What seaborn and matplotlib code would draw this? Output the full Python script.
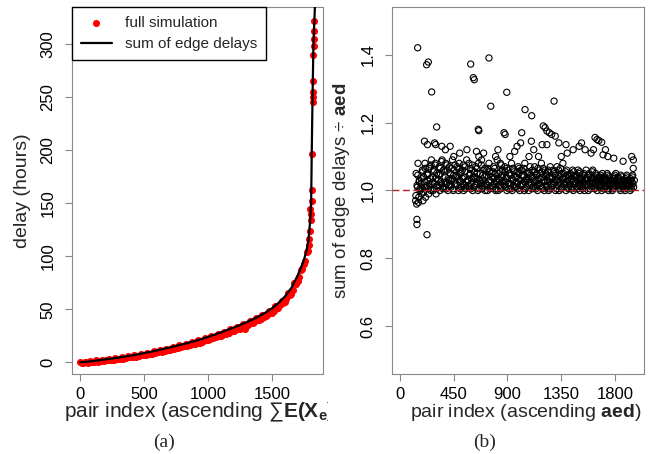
import seaborn as sns
import matplotlib.pyplot as plt
import pandas as pd
from matplotlib.transforms import Bbox, TransformedBbox

# ---- (a) delay per pair: sum of edge delays (line) vs full simulation (points)
line_idx = [0, 50, 100, 150, 200, 250, 300, 350, 400, 450,
            500, 550, 600, 650, 700, 750, 800, 850, 900, 950,
            1000, 1050, 1100, 1150, 1200, 1250, 1300, 1350, 1400, 1450,
            1500, 1550, 1600, 1650, 1700, 1725, 1750, 1770, 1785, 1795,
            1805, 1810, 1816, 1823, 1836]
line_delay = [0, 0.5, 1.2, 2.0, 2.8, 3.6, 4.5, 5.4, 6.4, 7.5,
              8.7, 9.9, 11.2, 12.6, 14.0, 15.5, 17.0, 18.6, 20.2, 22.0,
              24.0, 26.0, 28.2, 30.5, 32.8, 35.2, 37.8, 40.6, 43.6, 47.0,
              51.0, 56.0, 62.0, 70.0, 82.0, 89.0, 97.0, 106, 116, 130,
              150, 200, 250, 300, 340]

sim_idx = [0, 25, 50, 75, 100, 125, 150, 175, 200, 225,
           250, 275, 300, 325, 350, 375, 400, 425, 450, 475,
           500, 525, 550, 575, 600, 625, 650, 675, 700, 725,
           750, 775, 800, 825, 850, 875, 900, 925, 950, 975,
           1000, 1025, 1050, 1075, 1100, 1125, 1150, 1175, 1200, 1225,
           1250, 1275, 1300, 1325, 1350, 1375, 1400, 1425, 1450, 1475,
           1500, 1525, 1550, 1575, 1600, 1625, 1650, 1675, 1700, 1725,
           1750, 1770, 1785, 1795, 1800, 1806, 1808, 1812, 1815, 1817,
           1818, 1819, 1820, 1822, 1824, 1826, 1826, 1827,
           12, 37, 62, 87, 112, 137, 162, 187, 212, 237,
           262, 287, 312, 337, 362, 387, 412, 437, 462, 487,
           512, 537, 562, 587, 612, 637, 662, 687, 712, 737,
           762, 787, 812, 837, 862, 887, 912, 937, 962, 987,
           1012, 1037, 1062, 1087, 1112, 1137, 1162, 1187, 1212, 1237,
           1262, 1287, 1312, 1337, 1362, 1387, 1412, 1437, 1462, 1487,
           1512, 1537, 1562, 1587, 1612, 1637, 1662, 1687, 1712, 1737,
           1760, 1778, 1790, 1802]
sim_delay = [0.2, -0.3, 0.1, 0.9, 0.6, 1.8, 1.2, 2.5, 1.9, 3.3,
             2.6, 4.1, 3.2, 4.8, 4.1, 5.7, 5.0, 6.8, 5.6, 7.8,
             7.0, 9.1, 8.2, 10.3, 9.5, 11.6, 10.4, 13.0, 11.8, 14.5,
             13.6, 16.0, 15.1, 17.5, 16.3, 19.2, 17.5, 20.8, 19.6, 22.7,
             21.4, 24.6, 23.5, 26.8, 25.3, 29.0, 27.6, 31.2, 29.5, 33.6,
             31.0, 36.1, 34.8, 38.8, 37.5, 41.6, 40.2, 44.8, 43.5, 48.4,
             46.8, 52.9, 51.5, 58.2, 57.0, 65.1, 64.8, 75.0, 77.0, 87.5,
             92.5, 104, 111, 124, 145, 140, 152, 162, 196, 245,
             250, 255, 265, 290, 298, 305, 312, 322,
             -0.6, 0.0, -0.2, 0.1, 0.5, 0.7, 1.0, 1.5, 1.9, 2.2,
             2.5, 2.9, 3.3, 3.6, 4.1, 4.6, 5.0, 5.4, 5.9, 6.5,
             7.1, 7.6, 8.3, 8.8, 9.4, 10.1, 10.6, 11.3, 12.2, 12.9,
             13.6, 14.3, 15.0, 15.8, 16.5, 17.3, 18.0, 18.6, 19.8, 20.8,
             21.7, 22.8, 23.6, 24.9, 25.8, 27.0, 28.1, 29.3, 30.5, 31.4,
             32.9, 31.1, 35.4, 36.9, 38.2, 39.6, 41.2, 42.9, 44.6, 46.5,
             48.6, 50.9, 53.6, 56.3, 59.8, 63.5, 68.0, 74.1, 80.2, 87.6,
             96.0, 105, 116, 134]

# ---- (b) ratio sum of edge delays / aed, dense band
band_idx = [131, 135, 140, 146, 151, 157, 162, 168,
            176, 181, 187, 192, 198, 203, 209, 214,
            222, 228, 233, 240, 246, 251, 257, 263,
            271, 277, 284, 289, 296, 302, 307, 314,
            322, 328, 333, 340, 345, 352, 357, 364,
            371, 378, 383, 390, 396, 401, 408, 414,
            422, 427, 434, 439, 446, 452, 457, 463,
            471, 477, 484, 490, 495, 502, 507, 513,
            521, 528, 533, 539, 546, 551, 558, 564,
            572, 577, 583, 590, 595, 602, 608, 613,
            621, 627, 634, 639, 645, 652, 657, 664,
            671, 678, 683, 690, 696, 701, 708, 713,
            722, 727, 733, 740, 745, 752, 758, 763,
            771, 777, 784, 789, 796, 801, 808, 814,
            822, 828, 833, 840, 846, 851, 858, 863,
            871, 877, 883, 890, 895, 902, 907, 914,
            922, 927, 934, 939, 946, 951, 958, 963,
            971, 978, 983, 990, 995, 1002, 1008, 1013,
            1022, 1027, 1033, 1040, 1045, 1052, 1057, 1064,
            1071, 1078, 1083, 1089, 1096, 1101, 1108, 1114,
            1122, 1127, 1134, 1139, 1145, 1152, 1157, 1163,
            1171, 1177, 1184, 1190, 1195, 1202, 1208, 1213,
            1222, 1228, 1233, 1240, 1245, 1251, 1258, 1264,
            1271, 1277, 1284, 1289, 1296, 1302, 1307, 1314,
            1322, 1328, 1333, 1340, 1346, 1351, 1357, 1364,
            1371, 1377, 1384, 1390, 1395, 1401, 1408, 1414,
            1422, 1427, 1434, 1439, 1446, 1451, 1458, 1463,
            1471, 1478, 1483, 1490, 1496, 1501, 1507, 1513,
            1522, 1527, 1533, 1540, 1545, 1552, 1558, 1563,
            1571, 1577, 1584, 1589, 1596, 1602, 1607, 1614,
            1622, 1628, 1633, 1639, 1646, 1651, 1658, 1664,
            1671, 1677, 1683, 1690, 1695, 1702, 1708, 1713,
            1722, 1727, 1734, 1740, 1745, 1751, 1758, 1764,
            1771, 1778, 1783, 1789, 1796, 1801, 1807, 1814,
            1822, 1827, 1834, 1839, 1845, 1852, 1857, 1863,
            1871, 1877, 1884, 1890, 1895, 1901, 1908, 1914,
            1921, 1927, 1932, 1938, 1944, 1950, 1956, 1962]
band_ratio = [0.97, 1.05, 0.96, 1.01, 1.08, 0.98, 1.03, 1.00,
              1.02, 0.99, 1.06, 0.97, 1.04, 1.01, 1.08, 0.98,
              1.01, 1.05, 1.03, 0.99, 1.07, 1.02, 1.00, 1.09,
              1.04, 1.00, 1.06, 1.02, 1.08, 0.99, 1.05, 1.01,
              1.03, 1.07, 1.00, 1.05, 1.02, 1.09, 1.01, 1.06,
              1.01, 1.04, 1.08, 1.02, 1.06, 1.00, 1.03, 1.07,
              1.05, 1.01, 1.03, 1.09, 1.00, 1.06, 1.02, 1.04,
              1.02, 1.07, 1.04, 1.00, 1.08, 1.03, 1.05, 1.01,
              1.06, 1.02, 1.00, 1.04, 1.07, 1.01, 1.09, 1.03,
              1.03, 1.08, 1.01, 1.05, 1.02, 1.06, 1.00, 1.04,
              1.01, 1.04, 1.07, 1.02, 1.05, 1.00, 1.08, 1.03,
              1.05, 1.02, 1.09, 1.03, 1.01, 1.06, 1.04, 1.00,
              1.02, 1.06, 1.00, 1.04, 1.08, 1.03, 1.01, 1.05,
              1.04, 1.01, 1.07, 1.02, 1.05, 1.00, 1.03, 1.09,
              1.00, 1.05, 1.03, 1.08, 1.01, 1.04, 1.06, 1.02,
              1.03, 1.07, 1.01, 1.04, 1.00, 1.06, 1.02, 1.05,
              1.05, 1.02, 1.08, 1.00, 1.03, 1.06, 1.01, 1.04,
              1.01, 1.04, 1.02, 1.07, 1.05, 1.00, 1.03, 1.06,
              1.06, 1.02, 1.04, 1.00, 1.08, 1.03, 1.01, 1.05,
              1.03, 1.00, 1.05, 1.07, 1.02, 1.04, 1.06, 1.01,
              1.04, 1.07, 1.01, 1.03, 1.05, 1.00, 1.02, 1.06,
              1.02, 1.05, 1.08, 1.01, 1.04, 1.03, 1.00, 1.06,
              1.05, 1.01, 1.03, 1.06, 1.00, 1.04, 1.07, 1.02,
              1.01, 1.04, 1.06, 1.02, 1.05, 1.00, 1.03, 1.07,
              1.03, 1.06, 1.00, 1.04, 1.02, 1.05, 1.01, 1.08,
              1.05, 1.02, 1.04, 1.00, 1.06, 1.03, 1.01, 1.04,
              1.02, 1.05, 1.01, 1.03, 1.06, 1.00, 1.04, 1.02,
              1.04, 1.01, 1.03, 1.06, 1.02, 1.05, 1.00, 1.03,
              1.01, 1.04, 1.02, 1.05, 1.00, 1.03, 1.06, 1.02,
              1.03, 1.00, 1.05, 1.02, 1.04, 1.01, 1.03, 1.06,
              1.02, 1.04, 1.01, 1.05, 1.03, 1.00, 1.02, 1.04,
              1.04, 1.01, 1.03, 1.00, 1.05, 1.02, 1.04, 1.01,
              1.01, 1.03, 1.05, 1.02, 1.00, 1.04, 1.02, 1.03,
              1.03, 1.00, 1.02, 1.04, 1.01, 1.03, 1.05, 1.02,
              1.02, 1.04, 1.01, 1.03, 1.00, 1.02, 1.04, 1.01,
              1.01, 1.03, 1.00, 1.02, 1.04, 1.01, 1.03, 1.02,
              1.02, 1.00, 1.03, 1.01, 1.04, 1.02, 1.01, 1.03]

# second pass through the band (points between the rows above)
band2_idx = [133, 143, 149, 155, 160, 166,
             178, 184, 190, 196, 205, 211,
             225, 231, 237, 243, 254, 260,
             274, 280, 287, 293, 299, 310,
             325, 331, 337, 343, 349, 360,
             374, 381, 387, 393, 404, 411,
             424, 431, 437, 443, 449, 460,
             474, 481, 487, 498, 504, 510,
             524, 531, 536, 543, 549, 555,
             574, 580, 587, 593, 599, 605,
             624, 630, 637, 643, 649, 660,
             675, 681, 687, 693, 704, 710,
             724, 730, 737, 743, 749, 755,
             774, 780, 787, 793, 799, 805,
             825, 831, 837, 843, 849, 855,
             874, 880, 887, 893, 899, 910,
             924, 930, 937, 943, 949, 955,
             974, 981, 987, 993, 999, 1005,
             1024, 1030, 1037, 1043, 1049, 1060,
             1074, 1081, 1087, 1093, 1104, 1110,
             1124, 1130, 1137, 1143, 1149, 1155,
             1174, 1180, 1187, 1193, 1199, 1205,
             1225, 1231, 1237, 1243, 1249, 1255,
             1274, 1280, 1287, 1293, 1299, 1310,
             1324, 1331, 1337, 1343, 1349, 1360,
             1374, 1380, 1387, 1393, 1404, 1410,
             1424, 1431, 1437, 1443, 1449, 1455,
             1474, 1480, 1487, 1493, 1499, 1505,
             1524, 1530, 1537, 1543, 1549, 1555,
             1574, 1580, 1587, 1593, 1599, 1610,
             1624, 1630, 1637, 1643, 1649, 1655,
             1674, 1680, 1687, 1693, 1704, 1710,
             1724, 1730, 1737, 1743, 1749, 1755,
             1774, 1780, 1787, 1793, 1799, 1805,
             1824, 1830, 1837, 1843, 1849, 1855,
             1874, 1880, 1887, 1893, 1899, 1905,
             1924, 1930, 1936, 1942, 1948, 1953]
band2_ratio = [0.985, 1.015, 1.045, 0.965, 1.025, 1.005,
               1.035, 1.005, 1.055, 0.995, 1.025, 1.065,
               1.015, 1.045, 1.005, 1.065, 1.035, 1.075,
               1.025, 1.055, 1.005, 1.075, 1.035, 1.015,
               1.045, 1.015, 1.065, 1.025, 1.085, 1.005,
               1.055, 1.025, 1.005, 1.075, 1.035, 1.015,
               1.015, 1.065, 1.035, 1.005, 1.045, 1.075,
               1.045, 1.015, 1.065, 1.025, 1.005, 1.055,
               1.035, 1.075, 1.015, 1.055, 1.005, 1.025,
               1.015, 1.045, 1.065, 1.005, 1.035, 1.075,
               1.055, 1.015, 1.035, 1.065, 1.025, 1.005,
               1.025, 1.075, 1.005, 1.045, 1.015, 1.065,
               1.045, 1.015, 1.065, 1.025, 1.055, 1.005,
               1.015, 1.055, 1.035, 1.065, 1.005, 1.025,
               1.035, 1.015, 1.055, 1.005, 1.075, 1.045,
               1.015, 1.055, 1.025, 1.065, 1.035, 1.005,
               1.045, 1.005, 1.035, 1.065, 1.015, 1.055,
               1.025, 1.055, 1.005, 1.035, 1.065, 1.015,
               1.015, 1.045, 1.065, 1.025, 1.005, 1.035,
               1.055, 1.025, 1.015, 1.045, 1.005, 1.035,
               1.025, 1.055, 1.005, 1.045, 1.015, 1.065,
               1.035, 1.015, 1.055, 1.005, 1.065, 1.025,
               1.015, 1.045, 1.025, 1.055, 1.005, 1.035,
               1.035, 1.015, 1.055, 1.025, 1.045, 1.005,
               1.015, 1.045, 1.025, 1.065, 1.005, 1.035,
               1.035, 1.015, 1.055, 1.025, 1.045, 1.005,
               1.015, 1.035, 1.045, 1.005, 1.025, 1.055,
               1.025, 1.045, 1.005, 1.035, 1.015, 1.055,
               1.035, 1.005, 1.025, 1.045, 1.015, 1.035,
               1.015, 1.045, 1.025, 1.005, 1.035, 1.055,
               1.035, 1.005, 1.025, 1.045, 1.015, 1.035,
               1.025, 1.045, 1.015, 1.035, 1.005, 1.025,
               1.015, 1.035, 1.005, 1.045, 1.025, 1.015,
               1.025, 1.005, 1.035, 1.015, 1.045, 1.025,
               1.015, 1.035, 1.005, 1.025, 1.045, 1.015,
               1.025, 1.005, 1.035, 1.015, 1.045, 1.025,
               1.015, 1.035, 1.005, 1.025, 1.045, 1.065]

# ---- (b) scattered points away from the band
out_idx = [148, 223, 237, 265, 307, 205, 230, 290, 298, 142,
           142, 226, 350, 380, 420, 592, 614, 622, 745, 760,
           656, 660, 894, 871, 880, 1047, 1103, 1019, 1010, 1100,
           1290, 1200, 1215, 1230, 1250, 1270, 1300, 1190, 1230, 1330,
           1390, 1633, 1650, 1665, 1689, 1550, 1600, 1700, 1740, 1790,
           1868, 1940, 1954, 500, 560, 640, 700, 820, 960, 1120,
           1450, 1500, 1400, 1620, 1720, 1520, 450, 800, 1080, 1350,
           660, 920, 1160, 980]
out_ratio = [1.42, 1.37, 1.378, 1.29, 1.187, 1.145, 1.135, 1.14, 1.135, 0.915,
             0.90, 0.87, 1.13, 1.12, 1.13, 1.372, 1.332, 1.326, 1.39, 1.248,
             1.18, 1.176, 1.289, 1.17, 1.165, 1.238, 1.22, 1.17, 1.14, 1.145,
             1.263, 1.19, 1.185, 1.175, 1.17, 1.165, 1.16, 1.135, 1.135, 1.14,
             1.135, 1.156, 1.15, 1.147, 1.142, 1.12, 1.11, 1.105, 1.10, 1.095,
             1.086, 1.10, 1.09, 1.11, 1.12, 1.115, 1.11, 1.12, 1.115, 1.12,
             1.12, 1.13, 1.11, 1.12, 1.12, 1.14, 1.10, 1.10, 1.10, 1.10,
             1.10, 1.10, 1.10, 1.13]

line_df = pd.DataFrame({"idx": line_idx, "delay": line_delay})
sim_df = pd.DataFrame({"idx": sim_idx, "delay": sim_delay})
ratio_df = pd.DataFrame({"idx": band_idx + band2_idx + out_idx,
                         "ratio": band_ratio + band2_ratio + out_ratio})

sns.set_theme(style="white")
plt.rcParams["font.family"] = ["Liberation Sans", "DejaVu Sans"]
plt.rcParams["mathtext.fontset"] = "custom"
plt.rcParams["mathtext.rm"] = "Liberation Sans"
plt.rcParams["mathtext.it"] = "Liberation Sans:italic"
plt.rcParams["mathtext.bf"] = "Liberation Sans:bold"

fig = plt.figure(figsize=(6.53, 4.54), dpi=100)
ax1 = fig.add_axes([0.1103, 0.1762, 0.3844, 0.8084])
ax2 = fig.add_axes([0.6003, 0.1762, 0.3859, 0.8084])

# panel (a)
sns.scatterplot(data=sim_df, x="idx", y="delay", color="red", s=26, linewidth=0,
                ax=ax1, label="full simulation", zorder=2)
sns.lineplot(data=line_df, x="idx", y="delay", color="black", lw=1.6,
             ax=ax1, label="sum of edge delays", zorder=3)
ax1.set(xlim=(-62, 1898), ylim=(-11, 335),
        xticks=[0, 500, 1000, 1500], yticks=[0, 50, 100, 150, 200, 250, 300])
ax1.legend(loc="upper left", borderaxespad=0, fancybox=False, edgecolor="black",
           framealpha=1, fontsize=11, handlelength=2.0, handletextpad=0.85,
           borderpad=0.6, labelspacing=0.45, markerscale=1.0)
ax1.set_xlabel(r"pair index (ascending $\sum\mathbf{E(X_e)}$)", fontsize=15, va="center")
ax1.set_ylabel("delay (hours)", fontsize=14, va="center")
ax1.xaxis.set_label_coords(0.52, -0.104)
ax1.yaxis.set_label_coords(-0.199, 0.5)
ax1.xaxis.label.set_clip_box(TransformedBbox(Bbox([[0, 0], [328 / 653, 1]]), fig.transFigure))
ax1.xaxis.label.set_clip_on(True)

# panel (b)
sns.scatterplot(data=ratio_df, x="idx", y="ratio", facecolor="none", edgecolor="black",
                s=20, linewidth=0.8, ax=ax2, legend=False)
ax2.axhline(1.0, color="#b22222", lw=1, linestyle=(0, (5, 2.5)), zorder=4)
ax2.set(xlim=(-67, 2043), ylim=(0.46, 1.54),
        xticks=[0, 450, 900, 1350, 1800], yticks=[0.6, 0.8, 1.0, 1.2, 1.4])
ax2.set_yticklabels(["0.6", "0.8", "1.0", "1.2", "1.4"])
ax2.set_xlabel(r"pair index (ascending $\mathbf{aed}$)", fontsize=14, va="center")
ax2.set_ylabel(r"sum of edge delays $\div$ $\mathbf{aed}$", fontsize=13.5, va="center")
ax2.xaxis.set_label_coords(0.532, -0.104)
ax2.yaxis.set_label_coords(-0.202, 0.5)

for ax in (ax1, ax2):
    for sp in ax.spines.values():
        sp.set_color("#888888")
        sp.set_linewidth(0.8)
    ax.tick_params(axis="both", direction="out", length=5, width=0.8, color="#888888",
                   labelsize=12, labelcolor="black", bottom=True, left=True)
    ax.tick_params(axis="x", pad=4)
    ax.tick_params(axis="y", pad=7, labelrotation=90)
    for lab in ax.get_yticklabels():
        lab.set_va("center")

fig.text(164 / 653, 1 - 442 / 454, "(a)", family="Liberation Serif", fontsize=14,
         ha="center", va="center")
fig.text(485 / 653, 1 - 442 / 454, "(b)", family="Liberation Serif", fontsize=14,
         ha="center", va="center")

fig.savefig("out.png", dpi=100)
